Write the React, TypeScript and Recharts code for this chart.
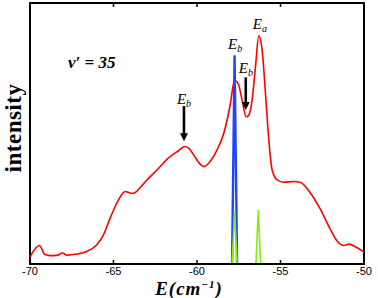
import { LineChart, Line, XAxis, YAxis, ReferenceDot, ReferenceLine, ReferenceArea } from 'recharts'

// red spectrum, E (cm^-1) vs intensity
const redE = [
  -70, -69.44, -69.1, -68.8, -68.4, -68.05, -67.8, -67.2, -66.6, -66.0, -65.6, -65.2, -64.7,
  -64.3, -64.0, -63.8, -63.4, -63.0, -62.4, -61.8, -61.2, -60.7, -60.5, -60.2, -59.8, -59.6,
  -59.3, -58.8, -58.4, -58.0, -57.8, -57.65, -57.5, -57.3, -57.06, -56.9, -56.7, -56.5, -56.3,
  -56.1, -55.9, -55.7, -55.5, -55.2, -54.8, -54.2, -53.8, -53.2, -52.6, -52.0, -51.6, -51.2,
  -50.9, -50.5, -50.0,
]
const redI = [
  0.027, 0.071, 0.036, 0.032, 0.033, 0.042, 0.034, 0.038, 0.048, 0.074, 0.112, 0.176, 0.246,
  0.278, 0.272, 0.271, 0.293, 0.322, 0.36, 0.401, 0.43, 0.45, 0.444, 0.418, 0.382, 0.373,
  0.386, 0.437, 0.5, 0.615, 0.692, 0.7, 0.685, 0.628, 0.564, 0.57, 0.628, 0.755, 0.874,
  0.82, 0.654, 0.475, 0.36, 0.322, 0.313, 0.316, 0.312, 0.271, 0.208, 0.131, 0.087, 0.071,
  0.076, 0.065, 0.046,
]

const blueE = [-57.9, -57.75, -57.6]
const blueI = [0, 0.8, 0]

const greenE = [-57.9, -57.75, -57.6, -56.47, -56.33, -56.19]
const greenI = [0, 0.2, 0, 0, 0.207, 0]

const xTicks = [-70, -65, -60, -55, -50]
const innerTicks = [-65, -60, -55]

const red = redE.map((e, i) => ({ e, v: redI[i] }))
const blue = blueE.map((e, i) => ({ e, v: blueI[i] }))
const green = greenE.map((e, i) => ({ e, v: greenI[i] }))

const serif = '"Liberation Serif", "DejaVu Serif", serif'

function Arrow(props: any) {
  const { x1, y1, x2, y2 } = props
  return (
    <g>
      <line x1={x1} y1={y1} x2={x2} y2={y2 - 7} stroke="#000" strokeWidth={2.6} />
      <polygon points={`${x2 - 4},${y2 - 8} ${x2 + 4},${y2 - 8} ${x2},${y2}`} fill="#000" />
    </g>
  )
}

function Label({ cx, cy, main, sub }: any) {
  return (
    <text x={cx} y={cy} textAnchor="middle" fontFamily={serif} fontStyle="italic" fontSize={15} fill="#000">
      {main}
      <tspan fontSize={10} dy={3}>{sub}</tspan>
    </text>
  )
}

export default function App() {
  return (
    <div style={{ position: 'absolute', left: 0, top: 0, width: 378, height: 298, background: '#fff' }}>
      <LineChart width={378} height={298} margin={{ top: 3, right: 14, bottom: 14, left: 30 }}>
        <XAxis
          type="number"
          dataKey="e"
          domain={[-70, -50]}
          ticks={xTicks}
          allowDataOverflow
          height={20}
          axisLine={{ stroke: '#000', strokeWidth: 2 }}
          tickLine={{ stroke: '#000', strokeWidth: 1.5 }}
          tickSize={-4}
          tickMargin={7}
          tick={{ fontSize: 11, fill: '#000', fontFamily: '"Liberation Sans", Arial, sans-serif' }}
          label={{
            content: () => (
              <g>
                <text x={189} y={295} textAnchor="middle" fontFamily={serif} fontStyle="italic" fontWeight="bold" fontSize={19} letterSpacing={1} fill="#000">
                  E(cm
                  <tspan fontSize={11} dy={-7}>−1</tspan>
                  <tspan dy={7}>)</tspan>
                </text>
                <text transform="translate(21,128) rotate(-90)" textAnchor="middle" fontFamily={serif} fontWeight="bold" fontSize={23} letterSpacing={0.5} fill="#000">
                  intensity
                </text>
              </g>
            ),
          }}
        />
        <YAxis type="number" domain={[0, 1]} width={0} tick={false} tickLine={false} axisLine={false} />
        <ReferenceArea x1={-70} x2={-50} y1={0} y2={1} fill="none" stroke="#000" strokeWidth={2} ifOverflow="visible" />
        {innerTicks.map((t) => (
          <ReferenceLine key={t} segment={[{ x: t, y: 1 }, { x: t, y: 0.985 }]} stroke="#000" strokeWidth={1.5} />
        ))}
        <Line data={red} dataKey="v" type="monotone" stroke="#ff0000" strokeWidth={1.6} dot={false} isAnimationActive={false} />
        <Line data={blue} dataKey="v" type="linear" stroke="#2244ff" strokeWidth={2.4} dot={false} isAnimationActive={false} />
        <Line data={green} dataKey="v" type="linear" stroke="#80ee10" strokeWidth={1.6} dot={false} isAnimationActive={false} />
        <ReferenceLine segment={[{ x: -60.78, y: 0.605 }, { x: -60.78, y: 0.47 }]} shape={Arrow} />
        <ReferenceLine segment={[{ x: -57.08, y: 0.715 }, { x: -57.08, y: 0.59 }]} shape={Arrow} />
        <ReferenceDot x={-60.78} y={0.613} r={0} shape={(p: any) => <Label {...p} main="E" sub="b" />} />
        <ReferenceDot x={-57.72} y={0.824} r={0} shape={(p: any) => <Label {...p} main="E" sub="b" />} />
        <ReferenceDot x={-57.07} y={0.732} r={0} shape={(p: any) => <Label {...p} main="E" sub="b" />} />
        <ReferenceDot x={-56.23} y={0.9} r={0} shape={(p: any) => <Label {...p} main="E" sub="a" />} />
        <ReferenceDot
          x={-66.3}
          y={0.75}
          r={0}
          shape={(p: any) => (
            <text x={p.cx} y={p.cy} textAnchor="middle" fontFamily={serif} fontStyle="italic" fontWeight="bold" fontSize={17} fill="#000">
              v′ = 35
            </text>
          )}
        />
      </LineChart>
    </div>
  )
}
